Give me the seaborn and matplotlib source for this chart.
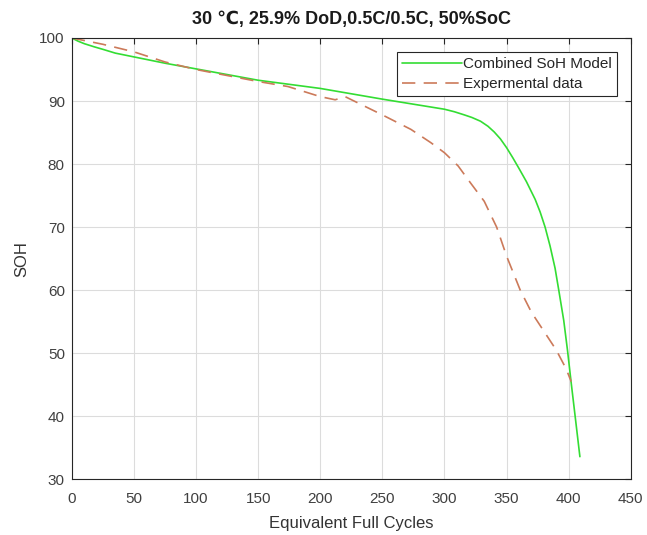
"""SoH model vs experimental data, MATLAB-style static plot."""

import matplotlib
matplotlib.use("Agg")
import matplotlib.pyplot as plt
import pandas as pd
import seaborn as sns

# combined SoH model curve
model_cycles = [0, 5, 10, 18, 25, 35, 50, 75, 100, 150, 200, 250, 300, 308,
                316, 322, 329, 335, 340, 345, 350, 355, 360, 366, 373, 377,
                381, 385, 389, 392, 396, 399, 402, 405, 409]
model_soh = [100, 99.5, 99.1, 98.6, 98.2, 97.6, 97.0, 96.0, 95.1, 93.3, 92.0,
             90.3, 88.7, 88.3, 87.8, 87.4, 86.8, 86.0, 85.1, 84.0, 82.6, 81.0,
             79.3, 77.2, 74.4, 72.4, 70.0, 67.0, 63.5, 60.0, 55.2, 50.5, 45.3,
             40.3, 33.6]

# experimental data
exp_cycles = [0, 25, 50, 75, 100, 150, 174, 200, 212, 220, 250, 273, 289, 300,
              311, 321, 332, 342, 350, 361, 370, 380, 390, 398, 402]
exp_soh = [100, 99.0, 97.8, 96.2, 95.0, 93.1, 92.3, 90.7, 90.2, 90.7, 87.8,
           85.5, 83.4, 81.8, 79.7, 77.0, 74.1, 70.0, 65.4, 60.0, 56.5, 53.5,
           50.5, 47.5, 45.5]

model_df = pd.DataFrame({"cycles": model_cycles, "soh": model_soh})
exp_df = pd.DataFrame({"cycles": exp_cycles, "soh": exp_soh})

sns.set_theme(style="whitegrid")
plt.rcParams["font.family"] = ["Liberation Sans", "DejaVu Sans"]

fig = plt.figure(figsize=(6.47, 5.35), dpi=100)
ax = fig.add_axes([0.111, 0.104, 0.864, 0.825])

sns.lineplot(data=model_df, x="cycles", y="soh", ax=ax, sort=False,
             color="#33dd33", linewidth=1.2, label="Combined SoH Model")
sns.lineplot(data=exp_df, x="cycles", y="soh", ax=ax, sort=False,
             color="#cc7a5a", linewidth=1.2, label="Expermental data")
ax.lines[1].set_linestyle((0, (8, 5)))

ax.set_xlim(0, 450)
ax.set_ylim(30, 100)
ax.set_xticks(range(0, 451, 50))
ax.set_yticks(range(30, 101, 10))
ax.grid(True, color="#dcdcdc", linewidth=0.8)
ax.set_facecolor("white")
for side in ax.spines.values():
    side.set_color("#262626")
    side.set_linewidth(0.8)
ax.tick_params(direction="in", length=4, width=0.8, top=True, right=True,
               labelsize=11, colors="#262626", labelcolor="#404040")
ax.tick_params(axis="x", pad=9)
ax.tick_params(axis="y", pad=5)

ax.set_xlabel("Equivalent Full Cycles", fontsize=12, color="#333333", labelpad=7)
ax.set_ylabel("SOH", fontsize=12, color="#333333", labelpad=7)
ax.set_title("30 ℃, 25.9% DoD,0.5C/0.5C, 50%SoC", fontsize=13,
             fontweight="bold", color="#1a1a1a", pad=10)

leg = ax.legend(loc="upper right", bbox_to_anchor=(0.976, 0.969), fontsize=11,
                frameon=True, fancybox=False, framealpha=1, handlelength=3.9,
                handletextpad=0.1, borderpad=0.35, labelspacing=0.4,
                borderaxespad=0)
leg.get_frame().set_edgecolor("#262626")
leg.get_frame().set_linewidth(0.8)

plt.savefig("out.png", dpi=100)
plt.close(fig)
